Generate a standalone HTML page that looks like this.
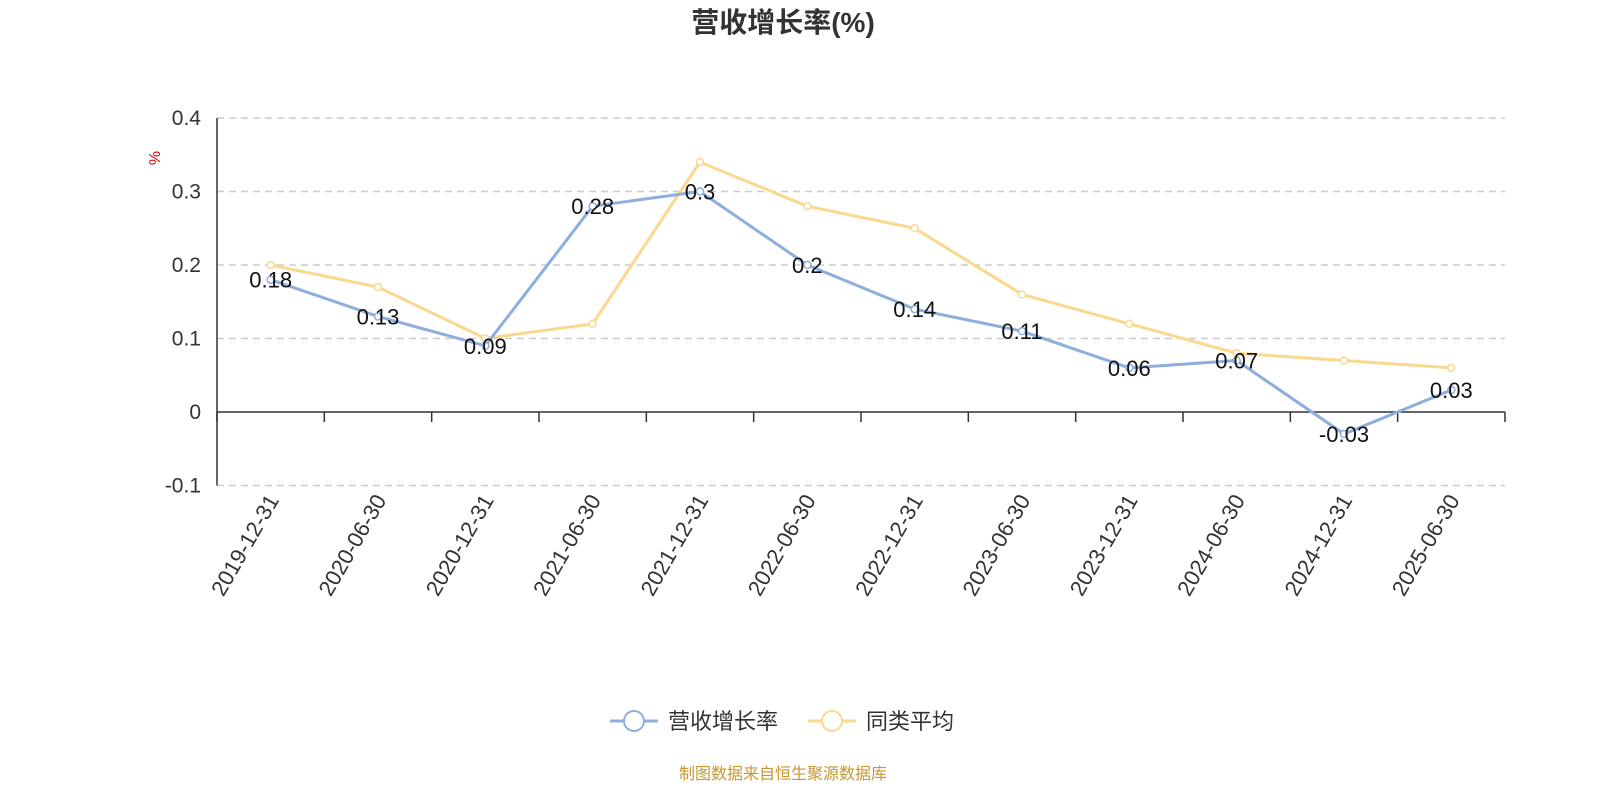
<!DOCTYPE html>
<html><head><meta charset="utf-8"><style>
html,body{margin:0;padding:0;background:#fff;}
svg{display:block;font-family:"Liberation Sans","Noto Sans CJK SC",sans-serif;}
</style></head><body>
<svg id="chart" width="1600" height="800">
<text x="783" y="32" text-anchor="middle" font-size="28" font-weight="bold" fill="#333">营收增长率(%)</text>
<text x="0" y="0" transform="translate(160,158) rotate(-90)" text-anchor="middle" font-size="16" fill="#e00">%</text>
<g id="grid"></g><g id="axes"></g><g id="series"></g><g id="labels"></g>
<g>
<g>
<line x1="610" y1="721" x2="658" y2="721" stroke="#8eaedd" stroke-width="3"/>
<circle cx="634" cy="721" r="10" fill="#fff" stroke="#8eaedd" stroke-width="2"/>
<text x="668" y="729" font-size="22" fill="#333">营收增长率</text></g>
<g>
<line x1="808" y1="721" x2="856" y2="721" stroke="#fad88e" stroke-width="3"/>
<circle cx="832" cy="721" r="10" fill="#fff" stroke="#fad88e" stroke-width="2"/>
<text x="866" y="729" font-size="22" fill="#333">同类平均</text></g>
</g>
<text x="783" y="779" text-anchor="middle" font-size="16" fill="#c89632">制图数据来自恒生聚源数据库</text>
</svg>
<script>
const categories=["2019-12-31","2020-06-30","2020-12-31","2021-06-30","2021-12-31","2022-06-30","2022-12-31","2023-06-30","2023-12-31","2024-06-30","2024-12-31","2025-06-30"];
const revenueGrowth=[0.18,0.13,0.09,0.28,0.3,0.2,0.14,0.11,0.06,0.07,-0.03,0.03];
const peerAverage=[0.2,0.17,0.1,0.12,0.34,0.28,0.25,0.16,0.12,0.08,0.07,0.06];
const yTicks=[0.4,0.3,0.2,0.1,0,-0.1];
const NS="http://www.w3.org/2000/svg";
const X0=217,X1=1505,Y0=412,PER=735;
const bw=(X1-X0)/categories.length;
const xs=i=>X0+bw*(i+0.5);
const ys=v=>Y0-v*PER;
function mk(tag,attrs,parent){const e=document.createElementNS(NS,tag);for(const k in attrs)e.setAttribute(k,attrs[k]);parent.appendChild(e);return e;}
const grid=document.getElementById('grid'),axes=document.getElementById('axes'),series=document.getElementById('series'),labels=document.getElementById('labels');
yTicks.forEach(v=>{
  if(v!==0){const l=mk('line',{x1:X0,x2:X1,y1:ys(v),y2:ys(v),stroke:'#ccc','stroke-width':1.5,'stroke-dasharray':'7,5'},grid);
  
  }
  const t=mk('text',{x:201,y:ys(v)+7,'text-anchor':'end','font-size':21,fill:'#333'},axes);
  t.textContent=String(v);
  
  
});
const ya=mk('line',{x1:X0,x2:X0,y1:ys(0.4),y2:ys(-0.1),stroke:'#333','stroke-width':1.5},axes);


const xa=mk('line',{x1:X0,x2:X1,y1:Y0,y2:Y0,stroke:'#333','stroke-width':1.5},axes);


for(let i=0;i<=categories.length;i++){
  const tk=mk('line',{x1:X0+bw*i,x2:X0+bw*i,y1:Y0,y2:Y0+10,stroke:'#333','stroke-width':1.5},axes);
  
  
}
categories.forEach((c,i)=>{
  const t=mk('text',{transform:`translate(${xs(i)+9},${500}) rotate(-60)`,'text-anchor':'end','font-size':22,fill:'#333'},axes);
  t.textContent=c;
  
  
});
function drawSeries(vals,color,name,withLabels){
  const p=mk('polyline',{points:vals.map((v,i)=>xs(i)+','+ys(v)).join(' '),fill:'none',stroke:color,'stroke-width':3,'stroke-linejoin':'round'},series);
  
  
  vals.forEach((v,i)=>{
    const c=mk('circle',{cx:xs(i),cy:ys(v),r:3.5,fill:'#fff',stroke:color,'stroke-width':1.5},series);
    
    
    if(withLabels){
      const t=mk('text',{x:xs(i),y:ys(v)+8,'text-anchor':'middle','font-size':22,fill:'#111'},labels);
      t.textContent=String(v);
      
      
    }
  });
}
drawSeries(peerAverage,'#fad88e','peer-average',false);
drawSeries(revenueGrowth,'#8eaedd','revenue-growth',true);
</script>
</body></html>
